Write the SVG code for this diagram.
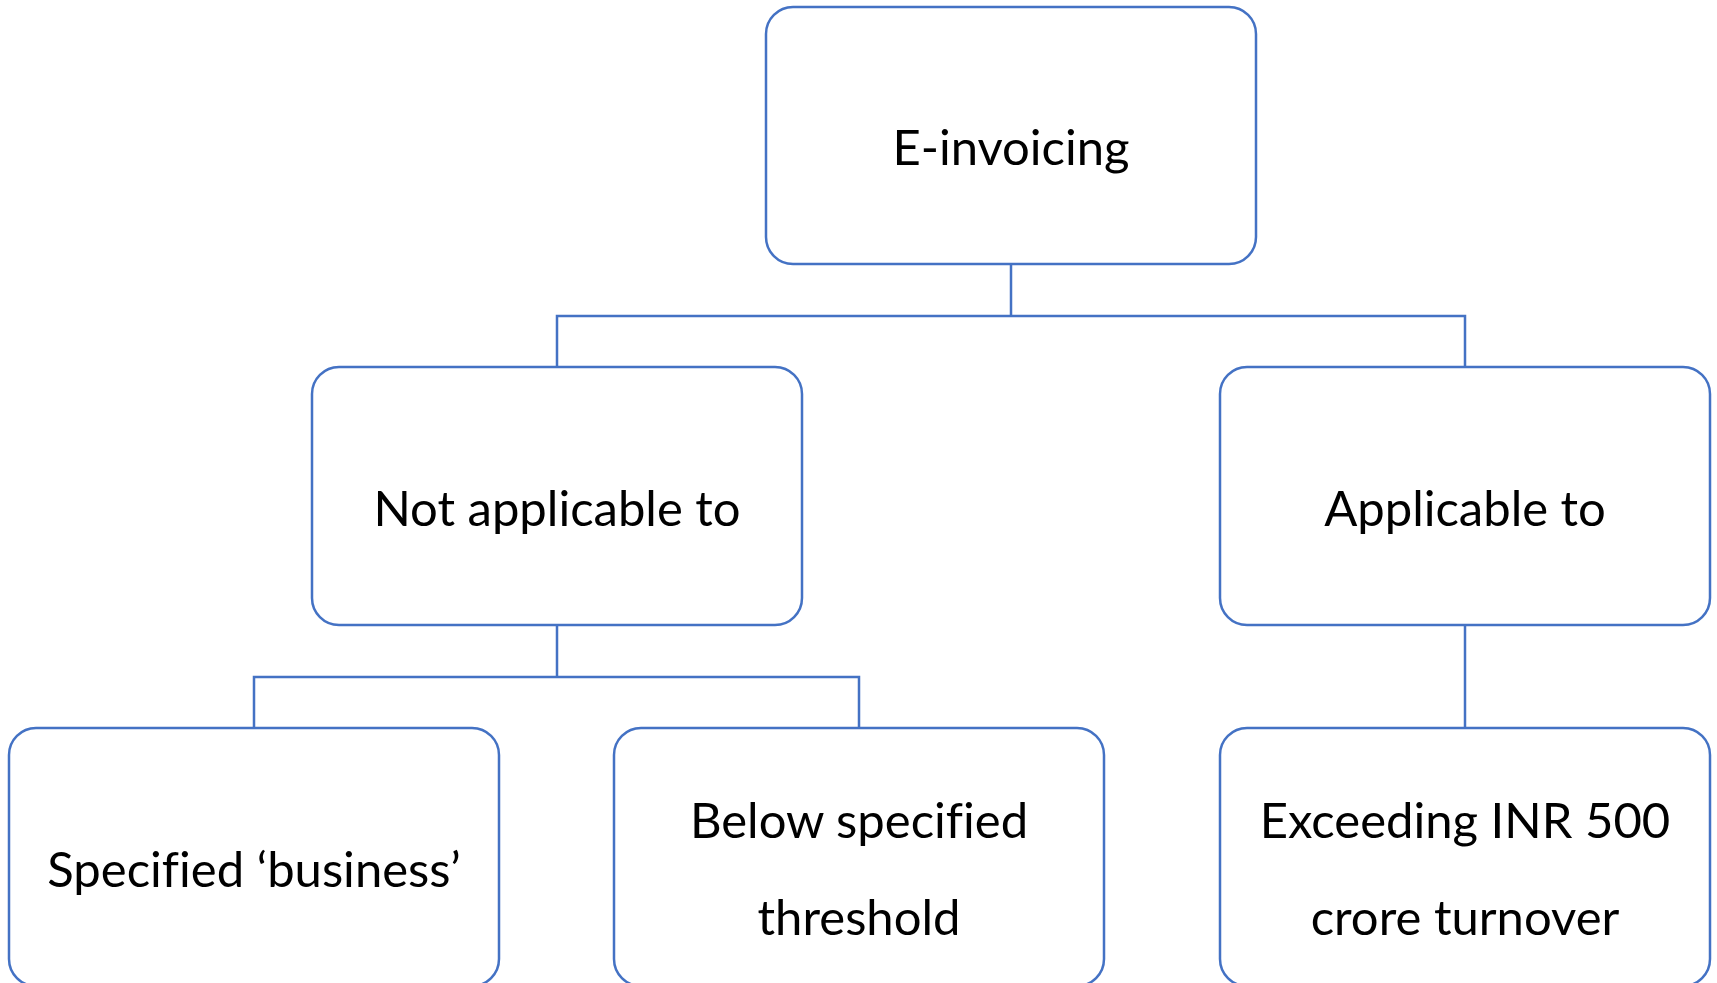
<svg xmlns="http://www.w3.org/2000/svg" width="1717" height="983" viewBox="0 0 1717 983">
  <style>
    .box { fill: #ffffff; stroke: #4472C4; stroke-width: 2.5; }
    .wire { fill: none; stroke: #4472C4; stroke-width: 2.5; }
    .label { font-family: Lato, "Noto Sans", "Liberation Sans", sans-serif; font-size: 49px; fill: #000000; text-anchor: middle; font-variant-ligatures: none; }
  </style>
  <rect width="1717" height="983" fill="#ffffff"/>

  <!-- tree connectors -->
  <g id="connectors">
    <path class="wire" d="M1011 264 V316 M557 367 V316 H1465 V367"/>
    <path class="wire" d="M557 625 V677 M254 728 V677 H859 V728"/>
    <path class="wire" d="M1465 625 V728"/>
  </g>

  <g id="root">
    <rect class="box" x="766" y="7" width="490" height="257" rx="27"/>
    <text class="label" x="1011" y="165">E-invoicing</text>
  </g>

  <g id="not-applicable">
    <rect class="box" x="312" y="367" width="490" height="258" rx="27"/>
    <text class="label" x="557" y="526">Not applicable to</text>
  </g>

  <g id="applicable">
    <rect class="box" x="1220" y="367" width="490" height="258" rx="27"/>
    <text class="label" x="1465" y="526">Applicable to</text>
  </g>

  <g id="specified-business">
    <rect class="box" x="9" y="728" width="490" height="258" rx="27"/>
    <text class="label" x="254" y="887">Specified ‘business’</text>
  </g>

  <g id="below-threshold">
    <rect class="box" x="614" y="728" width="490" height="258" rx="27"/>
    <text class="label" x="859" y="838">Below specified</text>
    <text class="label" x="859" y="935">threshold</text>
  </g>

  <g id="exceeding-turnover">
    <rect class="box" x="1220" y="728" width="490" height="258" rx="27"/>
    <text class="label" x="1465" y="838">Exceeding INR 500</text>
    <text class="label" x="1465" y="935">crore turnover</text>
  </g>
</svg>
